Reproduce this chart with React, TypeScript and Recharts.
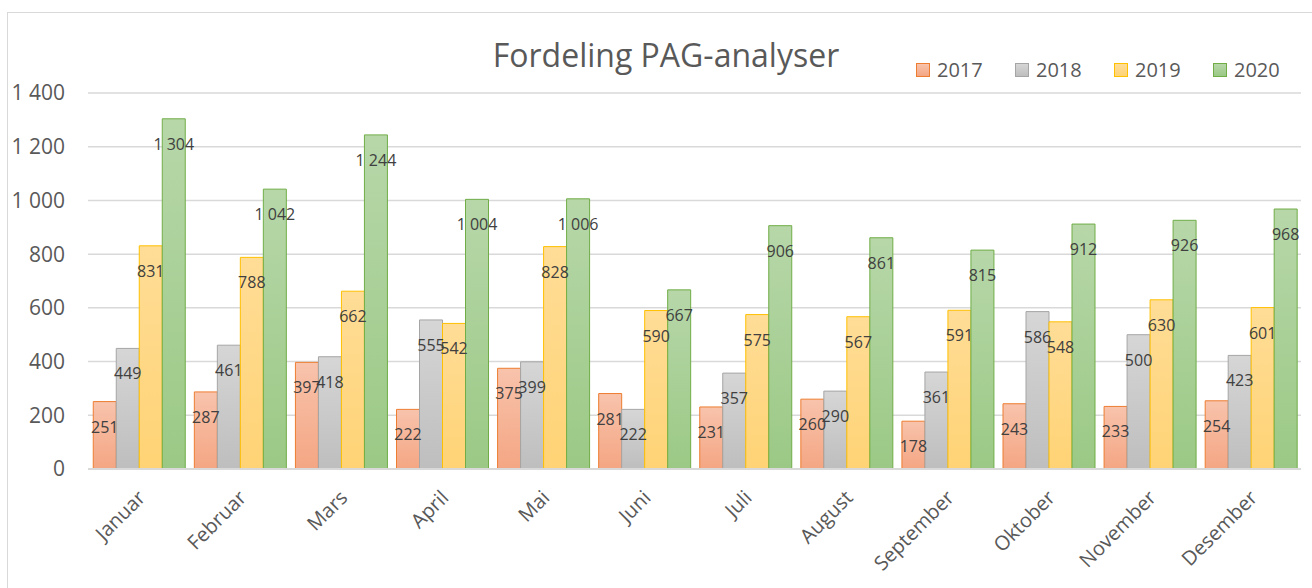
import React from 'react';
import { BarChart, Bar, XAxis, YAxis, CartesianGrid, LabelList } from 'recharts';

const months = ['Januar', 'Februar', 'Mars', 'April', 'Mai', 'Juni', 'Juli', 'August', 'September', 'Oktober', 'November', 'Desember'];
const years = ['2017', '2018', '2019', '2020'];
const y2017 = [251, 287, 397, 222, 375, 281, 231, 260, 178, 243, 233, 254];
const y2018 = [449, 461, 418, 555, 399, 222, 357, 290, 361, 586, 500, 423];
const y2019 = [831, 788, 662, 542, 828, 590, 575, 567, 591, 548, 630, 601];
const y2020 = [1304, 1042, 1244, 1004, 1006, 667, 906, 861, 815, 912, 926, 968];
const yTicks = [0, 200, 400, 600, 800, 1000, 1200, 1400];

const data = months.map((m, i) => ({
  month: m,
  '2017': y2017[i],
  '2018': y2018[i],
  '2019': y2019[i],
  '2020': y2020[i],
}));

// top colour, bottom colour, border
const colors: Record<string, [string, string, string]> = {
  '2017': ['#F8C3AC', '#F4A683', '#ED7D31'],
  '2018': ['#D6D6D6', '#BEBEBE', '#A5A5A5'],
  '2019': ['#FFDD97', '#FFD375', '#FFC000'],
  '2020': ['#B7D7A9', '#9BC985', '#70AD47'],
};

const font = '"Open Sans", sans-serif';

const fmt = (v: number) => String(v).replace(/\B(?=(\d{3})+(?!\d))/g, ' ');

const BarLabel = (props: any) => {
  const { x, y, width, value } = props;
  return (
    <text x={x + width / 2} y={y + 25} textAnchor="middle" dominantBaseline="central" fontSize={16} fill="#404040" fontFamily={font}>
      {fmt(value)}
    </text>
  );
};

const MonthTick = (props: any) => {
  const { x, y, payload } = props;
  return (
    <text transform={`translate(${x + 8},${y + 30}) rotate(-45)`} textAnchor="end" fontSize={20} fill="#595959" fontFamily={font}>
      {payload.value}
    </text>
  );
};

const LegendBox = () => (
  <div style={{ position: 'absolute', left: 916, top: 56, display: 'flex', fontFamily: font, fontSize: 20, color: '#595959' }}>
    {years.map((y) => (
      <div key={y} style={{ display: 'flex', alignItems: 'center', width: 99 }}>
        <span
          style={{
            display: 'inline-block',
            width: 12,
            height: 12,
            marginRight: 7,
            border: `1px solid ${colors[y][2]}`,
            background: `linear-gradient(${colors[y][0]}, ${colors[y][1]})`,
          }}
        />
        <span>{y}</span>
      </div>
    ))}
  </div>
);

export default function App() {
  return (
    <div style={{ position: 'absolute', left: 0, top: 0, width: 1312, height: 588, overflow: 'hidden', background: '#fff' }}>
      <div style={{ position: 'absolute', left: 7, top: 12, width: 1400, height: 700, borderTop: '1.5px solid #D9D9D9', borderLeft: '1.5px solid #D9D9D9' }} />
      <div style={{ position: 'absolute', left: 0, width: 1332, top: 33, textAlign: 'center', fontFamily: font, fontSize: 32, color: '#595959' }}>
        Fordeling PAG-analyser
      </div>
      <LegendBox />
      <div style={{ position: 'absolute', left: 0, top: 0 }}>
        <BarChart width={1312} height={588} data={data} margin={{ top: 93, right: 11, left: 0, bottom: 0 }} barCategoryGap="5.2%" barGap={0}>
          <defs>
            {years.map((y) => (
              <linearGradient key={y} id={`g${y}`} x1="0" y1="0" x2="0" y2="1">
                <stop offset="0%" stopColor={colors[y][0]} />
                <stop offset="100%" stopColor={colors[y][1]} />
              </linearGradient>
            ))}
          </defs>
          <CartesianGrid vertical={false} stroke="#D9D9D9" strokeWidth={1.5} />
          <XAxis dataKey="month" height={119} axisLine={{ stroke: '#D9D9D9', strokeWidth: 2 }} tickLine={false} tickSize={0} tickMargin={0} tick={<MonthTick />} interval={0} />
          <YAxis
            width={88}
            domain={[0, 1400]}
            ticks={yTicks}
            axisLine={false}
            tickLine={false}
            tickSize={0}
            tickMargin={23}
            tickFormatter={fmt}
            tick={{ fontSize: 21, fill: '#595959', fontFamily: font }}
          />
          {years.map((y) => (
            <Bar key={y} dataKey={y} fill={`url(#g${y})`} stroke={colors[y][2]} strokeWidth={1} isAnimationActive={false}>
              <LabelList dataKey={y} content={<BarLabel />} />
            </Bar>
          ))}
        </BarChart>
      </div>
    </div>
  );
}
